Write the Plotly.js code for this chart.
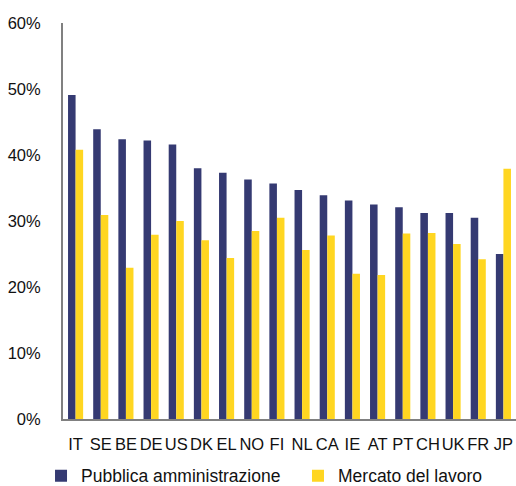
<!DOCTYPE html>
<html>
<head>
<meta charset="utf-8">
<script src="https://cdn.plot.ly/plotly-3.0.1.min.js"></script>
<style>
html,body{margin:0;padding:0;background:#fff;}
#chart{width:516px;height:486px;}
</style>
</head>
<body>
<div id="chart"></div>
<script>
var countries = ["IT","SE","BE","DE","US","DK","EL","NO","FI","NL","CA","IE","AT","PT","CH","UK","FR","JP"];
var pubblicaAmministrazione = [49.1,43.9,42.4,42.2,41.6,38.0,37.3,36.3,35.7,34.7,33.9,33.1,32.5,32.1,31.2,31.2,30.5,25.0];
var mercatoLavoro = [40.8,30.9,22.9,27.9,30.0,27.1,24.4,28.5,30.5,25.6,27.8,22.0,21.8,28.1,28.2,26.5,24.2,37.9];
var yTicks = [0,10,20,30,40,50,60];

var font = "Liberation Sans, Arial, sans-serif";
var traces = [
  {type:"bar", name:"Pubblica amministrazione", x:countries, y:pubblicaAmministrazione,
   marker:{color:"#353A72"}, legend:"legend"},
  {type:"bar", name:"Mercato del lavoro", x:countries, y:mercatoLavoro,
   marker:{color:"#FFD621"}, legend:"legend2"}
];
function legendAt(x) {
  return {orientation:"h", xref:"container", yref:"container",
          x:x, xanchor:"left", y:0.021, yanchor:"middle",
          font:{family:font, size:17.5, color:"#111"}, itemwidth:30,
          bgcolor:"rgba(0,0,0,0)"};
}
var layout = {
  width:516, height:486,
  margin:{l:63, r:0, t:23, b:67},
  paper_bgcolor:"#fff", plot_bgcolor:"#fff",
  barmode:"group", bargap:0.4, bargroupgap:0,
  font:{family:font, size:16.5, color:"#111"},
  showlegend:true,
  legend:legendAt(0.0795),
  legend2:legendAt(0.5775),
  xaxis:{type:"category", showline:true, linecolor:"#808080", linewidth:2,
         ticks:"", tickangle:0, ticklabelstandoff:9, showgrid:false, zeroline:false,
         tickfont:{family:font, size:16.5, color:"#111"}},
  yaxis:{range:[0,60], tickvals:yTicks, ticktext:yTicks.map(function(v){return v+"%";}),
         showline:true, linecolor:"#808080", linewidth:2, ticks:"", ticklabelstandoff:17,
         showgrid:false, zeroline:false, tickfont:{family:font, size:16.5, color:"#111"}}
};
Plotly.newPlot("chart", traces, layout, {displayModeBar:false, staticPlot:true});
</script>
</body>
</html>
